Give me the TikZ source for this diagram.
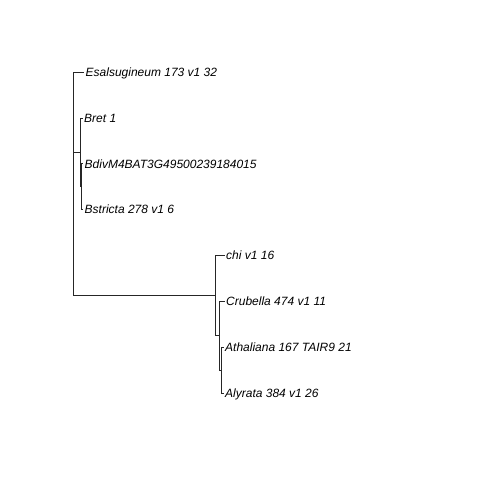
\documentclass[tikz,border=0pt]{standalone}
\usepackage{fontspec}
\newfontfamily\tipfont{Liberation Sans}

\begin{document}
\begin{tikzpicture}[x=1pt, y=-1pt,
  edge/.style={draw=black!85, line width=0.8pt},
  tip/.style={anchor=west, inner xsep=1.5pt, inner ysep=0pt,
              text height=8.6pt, text depth=0pt,
              font=\tipfont\itshape\fontsize{12}{14}\selectfont}
]
  \useasboundingbox[fill=white] (0,0) rectangle (480,480);

  % Tips
  \node[tip] (esal) at (84,72)      {Esalsugineum 173 v1 32};
  \node[tip] (bret) at (82.5,117.9) {Bret 1};
  \node[tip] (bdiv) at (83,163.7)   {BdivM4BAT3G49500239184015};
  \node[tip] (bstr) at (83,209.6)   {Bstricta 278 v1 6};
  \node[tip] (chi)  at (224.5,255.4) {chi v1 16};
  \node[tip] (crub) at (224.5,301.3) {Crubella 474 v1 11};
  \node[tip] (atha) at (223.5,347.2) {Athaliana 167 TAIR9 21};
  \node[tip] (alyr) at (223.5,393)   {Alyrata 384 v1 26};

  % Internal nodes
  \coordinate (root)  at (73,147.9);
  \coordinate (brc)   at (73,223.9);
  \coordinate (bcl)   at (80.5,152.3);
  \coordinate (bds)   at (81.5,186.6);
  \coordinate (rcl)   at (215.5,295.5);
  \coordinate (crat)  at (219,335.7);
  \coordinate (aaly)  at (221,370.1);

  % Branches
  \draw[edge] (root) |- (esal.west);
  \draw[edge] (root) |- (brc);
  \draw[edge] (brc) |- (bcl);
  \draw[edge] (brc) |- (rcl);

  \draw[edge] (bcl) |- (bret.west);
  \draw[edge] (bcl) |- (bds);
  \draw[edge] (bds) |- (bdiv.west);
  \draw[edge] (bds) |- (bstr.west);

  \draw[edge] (rcl) |- (chi.west);
  \draw[edge] (rcl) |- (crat);
  \draw[edge] (crat) |- (crub.west);
  \draw[edge] (crat) |- (aaly);
  \draw[edge] (aaly) |- (atha.west);
  \draw[edge] (aaly) |- (alyr.west);

\end{tikzpicture}
\end{document}
